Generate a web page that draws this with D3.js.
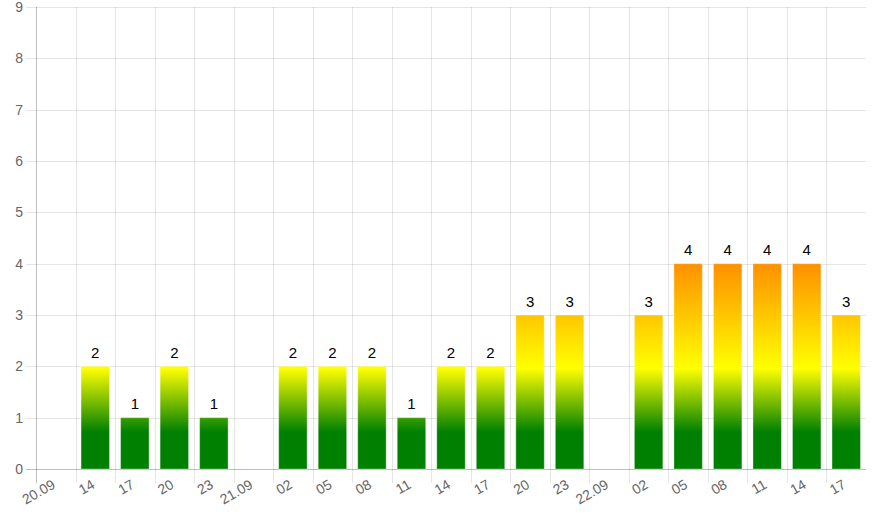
<!DOCTYPE html>
<html><head><meta charset="utf-8">
<script src="https://cdn.jsdelivr.net/npm/d3@7"></script>
<style>html,body{margin:0;padding:0;background:#fff;}svg{display:block;font-family:"Liberation Sans",Arial,sans-serif;}</style>
</head><body><svg id="c" width="875" height="525"></svg>
<script>
const categories = ["20.09","14","17","20","23","21.09","02","05","08","11","14","17","20","23","22.09","02","05","08","11","14","17"];
const values = [null,2,1,2,1,null,2,2,2,1,2,2,3,3,null,3,4,4,4,4,3];
const yTicks = [0,1,2,3,4,5,6,7,8,9];

(function(){
const svg = d3.select("#c");
const mL = 36, mR = 866, mT = 7, mB = 469;
const idx = categories.map((d,i)=>i);
const x = d3.scaleBand().domain(idx).range([mL,mR]).paddingInner(0).paddingOuter(0);
const y = d3.scaleLinear().domain([0,9]).range([mB,mT]);

const defs = svg.append("defs");
const grad = defs.append("linearGradient").attr("id","g").attr("gradientUnits","userSpaceOnUse")
  .attr("x1",0).attr("x2",0).attr("y1",y(0)).attr("y2",y(4));
[[0,"#008000"],[0.18,"#008000"],[0.49,"#ffff00"],[1,"#ff9000"]].forEach(s=>grad.append("stop").attr("offset",s[0]).attr("stop-color",s[1]));

svg.append("g").selectAll("line").data(yTicks).join("line")
  .attr("x1",mL-10).attr("x2",mR).attr("y1",d=>Math.round(y(d))+0.5).attr("y2",d=>Math.round(y(d))+0.5)
  .attr("stroke",d=>d===0?"rgba(0,0,0,0.25)":"rgba(0,0,0,0.1)");
svg.append("g").selectAll("line").data(idx).join("line")
  .attr("x1",d=>Math.round(x(d))+0.5).attr("x2",d=>Math.round(x(d))+0.5)
  .attr("y1",mT).attr("y2",mB+14)
  .attr("stroke",d=>d===0?"rgba(0,0,0,0.25)":"rgba(0,0,0,0.1)");

svg.append("g").selectAll("text").data(yTicks).join("text")
  .attr("x",mL-13).attr("y",d=>y(d)).attr("dy","0.35em").attr("text-anchor","end")
  .attr("font-size",14).attr("fill","#666").text(d=>d);

svg.append("g").selectAll("text").data(idx).join("text")
  .attr("transform",d=>`translate(${x(d)+x.bandwidth()/2-2},${mB+14}) rotate(-30)`)
  .attr("text-anchor","end").attr("dy","0.35em").attr("font-size",14).attr("fill","#666")
  .text(d=>categories[d]);

const bw = x.bandwidth()*0.72;
const data = idx.filter(i=>values[i]!=null);
svg.append("g").selectAll("rect").data(data).join("rect")
  .attr("x",d=>x(d)+(x.bandwidth()-bw)/2).attr("width",bw)
  .attr("y",d=>y(values[d])).attr("height",d=>y(0)-y(values[d]))
  .attr("fill","url(#g)").attr("stroke","rgba(255,255,255,0.35)").attr("stroke-width",1);

svg.append("g").selectAll("text").data(data).join("text")
  .attr("x",d=>x(d)+x.bandwidth()/2).attr("y",d=>y(values[d])-8.5)
  .attr("text-anchor","middle").attr("font-size",15).attr("fill","#000").text(d=>values[d]);
})();
</script></body></html>
